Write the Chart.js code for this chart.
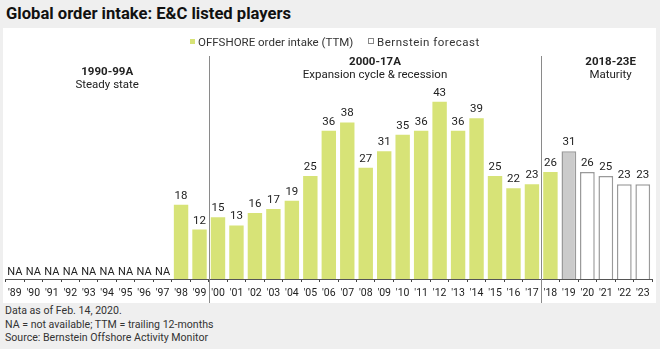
<!DOCTYPE html>
<html>
<head>
<meta charset="utf-8">
<script src="https://cdn.jsdelivr.net/npm/chart.js@4.4.1/dist/chart.umd.min.js"></script>
<style>
    body { margin: 0; width: 660px; height: 349px; background: #efefef; position: relative; overflow: hidden;
        font-family: "Roboto", sans-serif; color: #222; }
    #title { position: absolute; left: 6px; top: 4px; font-size: 16.6px; font-weight: bold; color: #111; white-space: nowrap; }
    #panel { position: absolute; left: 3px; top: 28px; width: 653px; height: 275px; background: #fff; }
    #legend { position: absolute; top: 35px; left: 0; width: 660px; font-size: 11.5px; color: #333; white-space: nowrap; }
    #legend span.item { position: absolute; top: 0; }
    #legend i { display: inline-block; width: 5px; height: 5px; margin-right: 3px; vertical-align: 2px; }
    #notes { position: absolute; left: 5px; top: 304px; font-size: 10.6px; line-height: 13.5px; color: #333; white-space: nowrap; }
</style>
</head>
<body>
<div id="title">Global order intake: E&amp;C listed players</div>
<div id="panel"><canvas id="orderChart" width="653" height="275"></canvas></div>
<div id="legend">
    <span class="item" style="left:190px"><i style="background:#d7e377"></i>OFFSHORE order intake (TTM)</span>
    <span class="item" style="left:368px; letter-spacing:0.5px"><i style="border:1px solid #888;width:4px;height:4px;background:#fff"></i>Bernstein forecast</span>
</div>
<div id="notes">Data as of Feb. 14, 2020.<br>NA = not available; TTM = trailing 12-months<br>Source: Bernstein Offshore Activity Monitor</div>
<script>
var years = ["'89", "'90", "'91", "'92", "'93", "'94", "'95", "'96", "'97", "'98", "'99",
    "'00", "'01", "'02", "'03", "'04", "'05", "'06", "'07", "'08", "'09", "'10", "'11",
    "'12", "'13", "'14", "'15", "'16", "'17", "'18", "'19", "'20", "'21", "'22", "'23"];

// actual order intake, null = NA
var actualIntake = [null, null, null, null, null, null, null, null, null, 18, 12,
    15, 13, 16, 17, 19, 25, 36, 38, 27, 31, 35, 36,
    43, 36, 39, 25, 22, 23, 26, null, null, null, null, null];

var forecastIntake = [null, null, null, null, null, null, null, null, null, null, null,
    null, null, null, null, null, null, null, null, null, null, null, null,
    null, null, null, null, null, null, null, 31, 26, 25, 23, 23];

var naYears = ["'89", "'90", "'91", "'92", "'93", "'94", "'95", "'96", "'97"];

var periods = [
    { from: "'89", to: "'99", title: '1990-99A', sub: 'Steady state', y: 44 },
    { from: "'00", to: "'17", title: '2000-17A', sub: 'Expansion cycle & recession', y: 34.5 },
    { from: "'18", to: "'23", title: '2018-23E', sub: 'Maturity', y: 34.5 }
];
var dividers = ["'00", "'18"];

var fontFamily = '"Roboto", sans-serif';
var green = '#d7e377';

var forecastFill = forecastIntake.map(function (v, i) { return years[i] === "'19" ? '#cbcbcb' : '#ffffff'; });

var overlayPlugin = {
    id: 'overlay',
    afterDatasetsDraw: function (chart) {
        var ctx = chart.ctx;
        var x = chart.scales.x;
        var area = chart.chartArea;
        var half = (x.getPixelForValue(1) - x.getPixelForValue(0)) / 2;
        ctx.save();

        // divider lines
        ctx.strokeStyle = '#8a8a8a';
        ctx.lineWidth = 1;
        dividers.forEach(function (d) {
            var px = Math.round(x.getPixelForValue(years.indexOf(d)) - half) + 0.5;
            ctx.beginPath();
            ctx.moveTo(px, 28);
            ctx.lineTo(px, chart.height);
            ctx.stroke();
        });

        // period headers
        ctx.textAlign = 'center';
        ctx.textBaseline = 'middle';
        ctx.fillStyle = '#222';
        periods.forEach(function (p, k) {
            var l = x.getPixelForValue(years.indexOf(p.from)) - half;
            var r = x.getPixelForValue(years.indexOf(p.to)) + half;
            var cx = (l + r) / 2;
            if (k === 2) cx += 14;
            ctx.font = 'bold 11.5px ' + fontFamily;
            ctx.fillText(p.title, cx, p.y);
            ctx.font = '11.5px ' + fontFamily;
            ctx.fillText(p.sub, cx, p.y + 13);
        });

        // value labels
        ctx.font = '11.5px ' + fontFamily;
        ctx.textBaseline = 'alphabetic';
        chart.data.datasets.forEach(function (ds, di) {
            chart.getDatasetMeta(di).data.forEach(function (bar, i) {
                if (ds.data[i] == null) return;
                ctx.fillText(ds.data[i], bar.x, bar.y - 6);
            });
        });

        // NA labels
        ctx.font = '11px ' + fontFamily;
        naYears.forEach(function (y) {
            ctx.fillText('NA', x.getPixelForValue(years.indexOf(y)), area.bottom - 4);
        });
        ctx.restore();
    }
};

new Chart(document.getElementById('orderChart'), {
    type: 'bar',
    data: {
        labels: years,
        datasets: [{
            label: 'OFFSHORE order intake (TTM)',
            data: actualIntake,
            backgroundColor: green,
            borderWidth: 0,
            barPercentage: 0.78,
            categoryPercentage: 1
        }, {
            label: 'Bernstein forecast',
            data: forecastIntake,
            backgroundColor: forecastFill,
            borderColor: '#9a9a9a',
            borderWidth: 1.5,
            borderSkipped: 'bottom',
            barPercentage: 0.8,
            categoryPercentage: 1
        }]
    },
    options: {
        responsive: false,
        animation: false,
        layout: { padding: { left: 1.3, right: 4, top: 45, bottom: 0 } },
        plugins: {
            legend: { display: false },
            tooltip: { enabled: false }
        },
        scales: {
            x: {
                stacked: true,
                grid: { display: true, drawOnChartArea: false, tickLength: 3, color: '#444', offset: true },
                border: { color: '#555', width: 1 },
                ticks: { color: '#222', font: { size: 10.5, family: fontFamily }, padding: 5, maxRotation: 0, autoSkip: false },
                afterFit: function (scale) { scale.height = 24; }
            },
            y: {
                display: false,
                stacked: false,
                min: 0,
                max: 50
            }
        }
    },
    plugins: [overlayPlugin]
});
</script>
</body>
</html>
